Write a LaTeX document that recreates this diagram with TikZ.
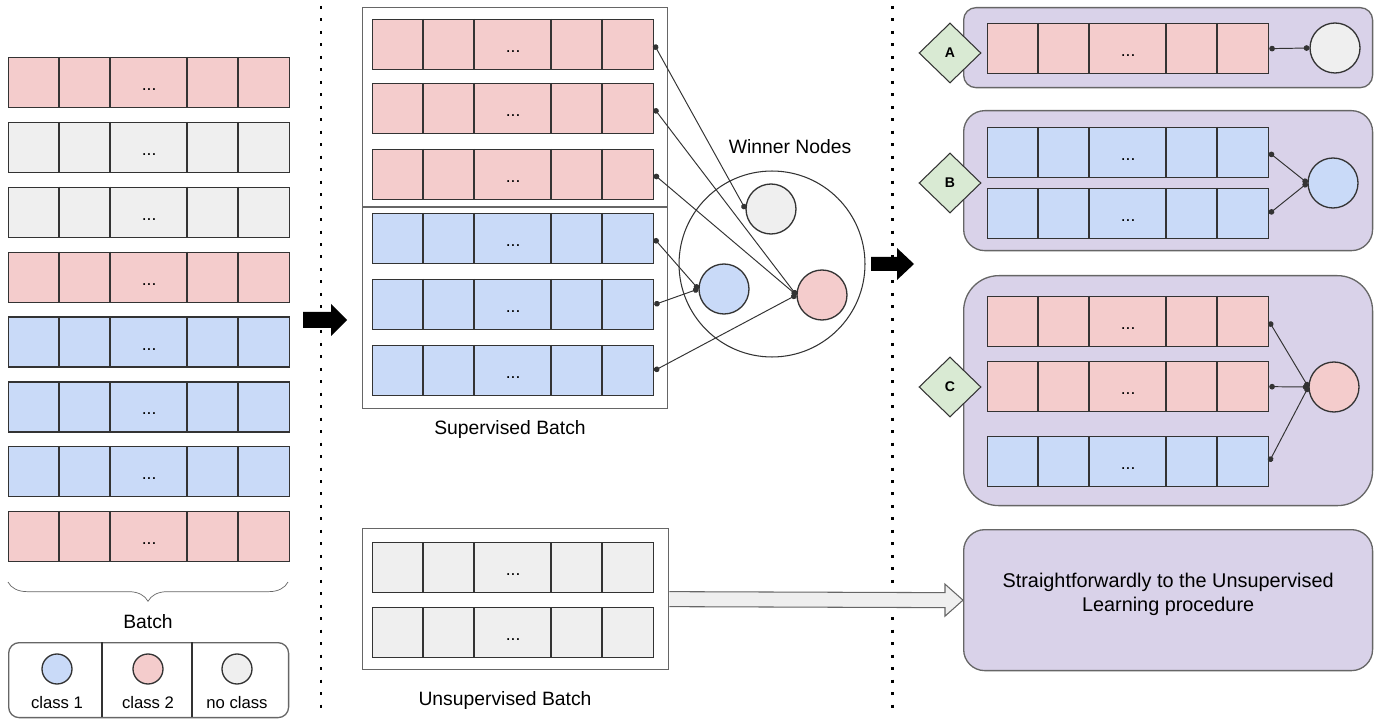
\documentclass[tikz,border=0pt]{standalone}
\usepackage{fontspec}
\setmainfont{Liberation Sans}
\usetikzlibrary{arrows.meta,calc,shapes.geometric,decorations.pathreplacing}

\definecolor{redcell}{HTML}{F4CCCC}
\definecolor{bluecell}{HTML}{C9DAF8}
\definecolor{graycell}{HTML}{EFEFEF}
\definecolor{groupbg}{HTML}{D9D2E9}
\definecolor{tagbg}{HTML}{D9EAD3}
\definecolor{edge}{HTML}{333333}
\definecolor{framegray}{HTML}{666666}

\newcommand{\vecrow}[4]{%
  \node[vecbox, fill=#4] (#1) at (#2,#3) {};
  \foreach \dx in {51,102,179,230} \draw[edge, line width=0.75pt] ($(#1.north west)+(\dx,0)$) -- ($(#1.south west)+(\dx,0)$);
  \node[anchor=base, font=\fontsize{10}{12}\selectfont] (#1d) at ($(#1.center)+(0,8)$) {...};
}

\begin{document}
\begin{tikzpicture}[x=0.02cm, y=-0.02cm, every node/.style={font=\fontsize{11}{13}\selectfont, inner sep=0pt},
	vecbox/.style={draw=edge, line width=0.75pt, anchor=north west, minimum width=5.62cm, minimum height=1cm},
	unit/.style={circle, draw=edge, line width=0.75pt, minimum size=1cm},
	link/.style={draw=edge, line width=0.55pt, {Circle[length=3.2pt]}-{Circle[length=3.2pt]}},
	frame/.style={draw=framegray, line width=0.75pt, anchor=north west},
	group/.style={draw=framegray, line width=0.75pt, fill=groupbg, anchor=north west, minimum width=8.18cm},
	tag/.style={diamond, draw=edge, fill=tagbg, line width=0.6pt, minimum width=1.24cm, minimum height=1.2cm, font=\fontsize{8}{9}\selectfont\bfseries},
	sepline/.style={line width=1.7pt, dash pattern=on 1.7pt off 5.4pt}]
	\useasboundingbox (0,0) rectangle (1382,719);

	\foreach \c [count=\i] in {redcell,graycell,graycell,redcell,bluecell,bluecell,bluecell,redcell} {
		\pgfmathsetmacro\ry{57+64.85*(\i-1)}
		\vecrow{b\i}{8}{\ry}{\c}
	}
	\draw[framegray, decorate, decoration={brace, mirror, amplitude=11pt}] (8,582) -- (288,582);
	\node (batchlbl) at (148,622) {Batch};
	\node[frame, rounded corners=6pt, minimum width=5.6cm, minimum height=1.5cm] (legend) at (8,642) {};
	\draw[edge, line width=0.6pt] (102,642) -- (102,717) (192,642) -- (192,717);
	\foreach \x/\c/\t [count=\k] in {57/bluecell/class 1, 148/redcell/class 2, 237/graycell/no class} {
		\node[unit, fill=\c, minimum size=0.6cm] (lg\k) at (\x,669) {};
		\node[font=\fontsize{9.5}{11}\selectfont] (lgt\k) at (\x,703) {\t};
	}

	\draw[sepline] (321,6) -- (321,716);
	\draw[sepline] (892,6) -- (892,716);
	\fill (303,312) -- (331,312) -- (331,304) -- (347,320) -- (331,336) -- (331,328) -- (303,328) -- cycle;
	\fill (871,257) -- (897,257) -- (897,248) -- (914,264) -- (897,280) -- (897,271) -- (871,271) -- cycle;

	\node[frame, minimum width=6.1cm, minimum height=8.02cm] (sup) at (362,7) {};
	\draw[framegray, line width=0.75pt] (362,207) -- (667,207);
	\foreach \y/\c [count=\i] in {19/redcell,83/redcell,149/redcell,213/bluecell,279/bluecell,345/bluecell} {
		\vecrow{s\i}{372}{\y}{\c}
	}
	\node (suplbl) at (510,430) {Supervised Batch};

	\node[circle, draw=edge, line width=0.6pt, minimum size=3.72cm] (win) at (772,264) {};
	\node (winlbl) at (790,147) {Winner Nodes};
	\node[unit, fill=graycell] (wg) at (771,209) {};
	\node[unit, fill=bluecell] (wb) at (724,289) {};
	\node[unit, fill=redcell] (wr) at (822,295) {};
	\foreach \a/\b in {s1/wg, s2/wr, s3/wr, s4/wb, s5/wb, s6/wr} \draw[link] (\a.east) -- (\b.west);

	\node[frame, minimum width=6.12cm, minimum height=2.82cm] (unsup) at (362,528) {};
	\vecrow{u1}{372}{542}{graycell}
	\vecrow{u2}{372}{607}{graycell}
	\node (unsuplbl) at (505,700) {Unsupervised Batch};

	\node[group, minimum height=1.6cm, rounded corners=7pt] (ga) at (963,7) {};
	\node[group, minimum height=2.8cm, rounded corners=12pt] (gb) at (963,110) {};
	\node[group, minimum height=4.6cm, rounded corners=20pt] (gc) at (963,275) {};
	\node[group, minimum height=2.82cm, rounded corners=12pt, align=center, text depth=9pt, font=\fontsize{11.3}{13.4}\selectfont] (learn) at (963,529) {Straightforwardly to the Unsupervised\\Learning procedure};
	\node[tag] (ta) at (950,53) {A};
	\node[tag] (tb) at (950,183) {B};
	\node[tag] (tc) at (950,387) {C};

	\vecrow{ra1}{987}{23}{redcell}
	\vecrow{rb1}{987}{127}{bluecell}
	\vecrow{rb2}{987}{188}{bluecell}
	\vecrow{rc1}{987}{296}{redcell}
	\vecrow{rc2}{987}{361}{redcell}
	\vecrow{rc3}{987}{436}{bluecell}
	\node[unit, fill=graycell] (ca) at (1335,48) {};
	\node[unit, fill=bluecell] (cb) at (1333,183) {};
	\node[unit, fill=redcell] (cc) at (1334,387) {};
	\foreach \a/\b in {ra1/ca, rb1/cb, rb2/cb, rc1/cc, rc2/cc, rc3/cc} \draw[link] (\a.east) -- (\b.west);

	\draw[draw=framegray, fill=graycell, line width=0.6pt] ($(unsup.east)+(0,-7.5)$) -- ($(learn.west)+(-18,-7.5)$) -- ($(learn.west)+(-18,-16)$) -- (learn.west) -- ($(learn.west)+(-18,16)$) -- ($(learn.west)+(-18,7.5)$) -- ($(unsup.east)+(0,7.5)$);
\end{tikzpicture}
\end{document}
